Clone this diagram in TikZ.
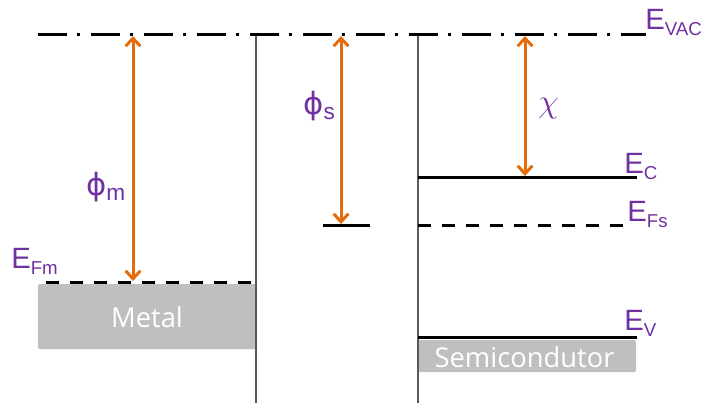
\documentclass[tikz,border=0pt]{standalone}
\usepackage{fontspec}
\setmainfont{Liberation Sans}
\newfontfamily\boxfont{Open Sans}
\newfontfamily\djv{DejaVu Sans}
\usetikzlibrary{arrows.meta}
\definecolor{myorange}{HTML}{E46C0A}
\definecolor{mypurple}{HTML}{7030A0}
\definecolor{boxgray}{HTML}{BFBFBF}
\definecolor{vlinecol}{HTML}{595959}
\newcommand{\lvl}[1]{\fontsize{22}{22}\selectfont E\raisebox{-4.5pt}{\fontsize{14}{14}\selectfont #1}}
\begin{document}
\begin{tikzpicture}[x=0.75pt,y=-0.75pt,
  vacline/.style={line width=2.25pt, dash pattern=on 21.75pt off 7.5pt on 2.5pt off 8pt},
  fermi/.style={line width=2.25pt, dash pattern=on 9.75pt off 8.25pt},
  band/.style={line width=2.25pt},
  wall/.style={line width=1.1pt, draw=vlinecol},
  gbox/.style={fill=boxgray, rounded corners=1pt},
  boxtext/.style={text=white, font=\boxfont\fontsize{20.5}{20.5}\selectfont, inner sep=0pt},
  energy/.style={line width=2.25pt, draw=myorange,
    arrows={Straight Barb[length=6pt,width=11pt]-Straight Barb[length=6pt,width=11pt]}},
  lbl/.style={text=mypurple, inner sep=0pt, anchor=base west},
]
\useasboundingbox (0,0) rectangle (705,403);
% boxes
\fill[gbox] (38,284) rectangle (257,349);
\fill[gbox] (417,340) rectangle (636,372);
\node[boxtext] (metal) at (147,317.5) {Metal};
\node[boxtext] (semi) at (524.5,357) {Semicondutor};
% walls
\coordinate (w1t) at (256,35); \coordinate (w1b) at (256,403);
\coordinate (w2t) at (418,35); \coordinate (w2b) at (418,403);
\draw[wall] (w1t) -- (w1b);
\draw[wall] (w2t) -- (w2b);
% levels
\coordinate (vacL) at (38,35); \coordinate (vacR) at (646,35);
\draw[vacline] (vacL) -- (vacR);
\coordinate (efmL) at (46,282); \coordinate (efmR) at (257,282);
\draw[fermi] (efmL) -- (efmR);
\coordinate (efsL) at (418,225); \coordinate (efsR) at (628,225);
\draw[fermi] (efsL) -- (efsR);
\coordinate (shL) at (323,225); \coordinate (shR) at (370,225);
\draw[band] (shL) -- (shR);
\coordinate (ecL) at (418,177); \coordinate (ecR) at (637,177);
\draw[band] (ecL) -- (ecR);
\coordinate (evL) at (418,337.5); \coordinate (evR) at (637,337.5);
\draw[band] (evL) -- (evR);
% arrows
\coordinate (am1) at (133,36); \coordinate (am2) at (133,281);
\draw[energy] (am1) -- (am2);
\coordinate (as1) at (341,36); \coordinate (as2) at (341,224);
\draw[energy] (as1) -- (as2);
\coordinate (ac1) at (525,36); \coordinate (ac2) at (525,176);
\draw[energy] (ac1) -- (ac2);
% labels
\node[lbl] (evac) at (645,30) {\lvl{VAC}};
\node[lbl] (ec) at (624,173) {\lvl{C}};
\node[lbl] (efs) at (627,221) {\lvl{Fs}};
\node[lbl] (efm) at (11,268) {\lvl{Fm}};
\node[lbl] (ev) at (624,330) {\lvl{V}};
\node[lbl] (phim) at (86,195) {\fontsize{23}{23}\selectfont{\djv ϕ}\raisebox{-3.75pt}{\fontsize{17}{17}\selectfont m}};
\node[lbl] (phis) at (303,114) {\fontsize{23}{23}\selectfont{\djv ϕ}\raisebox{-3.75pt}{\fontsize{17}{17}\selectfont s}};
\node[lbl] (chi) at (538,112) {\fontsize{23}{23}\selectfont$\chi$};
\end{tikzpicture}
\end{document}
